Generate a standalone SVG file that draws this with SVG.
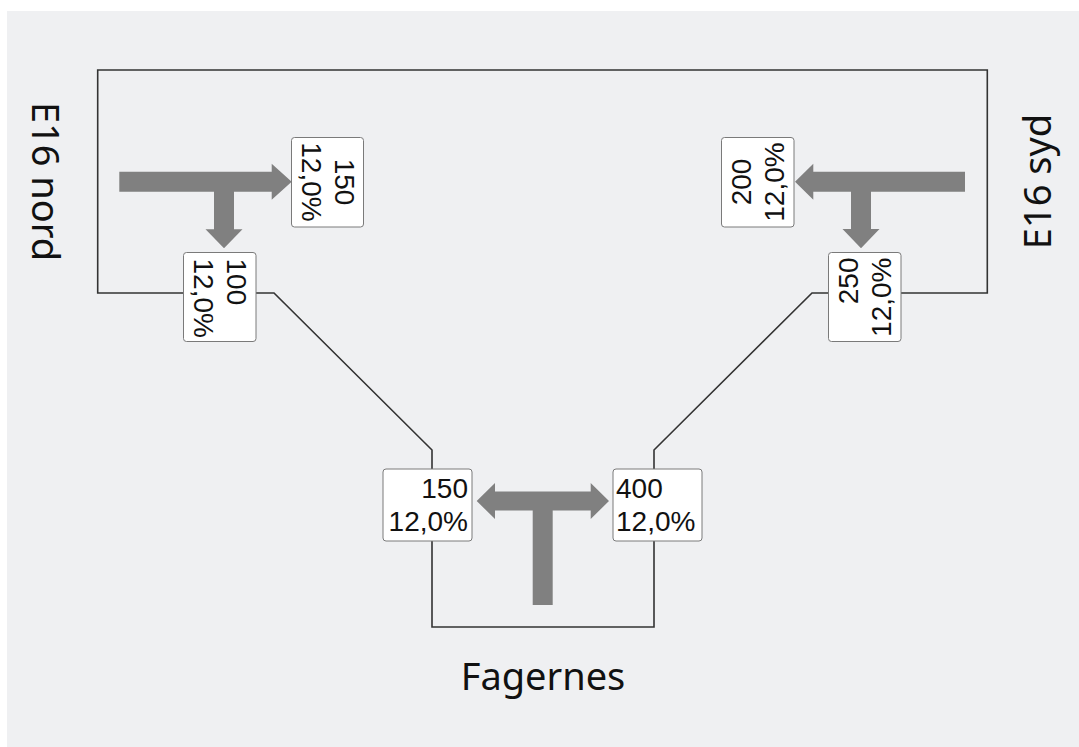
<svg xmlns="http://www.w3.org/2000/svg" width="1079" height="747" viewBox="0 0 1079 747">
<style>
.road{fill:none;stroke:#333;stroke-width:1.6}
.box{fill:#fff;stroke:#7a7a7a;stroke-width:1}
.num{font-family:"Liberation Sans",Arial,sans-serif;font-size:28px;fill:#111}
.lbl{font-family:"Noto Sans","Open Sans",sans-serif;font-size:38px;fill:#111}
.arr{fill:#808080}
</style>
<rect x="0" y="0" width="1079" height="747" fill="#ffffff"/>
<rect x="7" y="11" width="1072" height="736" fill="#eff0f2"/>
<g id="connectors">
<path class="road" d="M183 293 H97.7 V70 H987.3 V293 H901"/>
<path class="road" d="M256 293 H274 L432 450 V469"/>
<path class="road" d="M828 293 H812 L654 450 V469"/>
<path class="road" d="M432 541 V627 H654 V541"/>
</g>
<g id="arrows">
<polygon class="arr" points="119.3,171.7 271.7,171.7 271.7,163.7 291.7,181.7 271.7,199.7 271.7,191.7 234,191.7 234,229.3 242.5,229.3 224,248.3 205.5,229.3 214,229.3 214,191.7 119.3,191.7"/>
<polygon class="arr" points="965,171.7 813.3,171.7 813.3,163.7 795,181.7 813.3,199.7 813.3,191.7 871,191.7 871,229 879.5,229 861,248.3 842.5,229 851,229 851,191.7 965,191.7"/>
<polygon class="arr" points="476.7,501 495,483 495,491.5 590.7,491.5 590.7,483 609,501 590.7,519 590.7,510.5 552.7,510.5 552.7,605 532.7,605 532.7,510.5 495,510.5 495,519"/>
</g>
<g id="node-nord-150">
<rect class="box" x="291.5" y="137.5" width="72" height="89.5" rx="3"/>
<g transform="translate(327.5,182) rotate(90)"><text class="num" text-anchor="middle" x="0" y="-7">150</text><text class="num" text-anchor="middle" x="0" y="26">12,0%</text></g>
</g>
<g id="node-nord-100">
<rect class="box" x="183.5" y="252.5" width="72.5" height="89" rx="3"/>
<g transform="translate(219.5,252.5) rotate(90)"><text class="num" x="6" y="-7">100</text><text class="num" x="6" y="26">12,0%</text></g>
</g>
<g id="node-syd-200">
<rect class="box" x="721.5" y="137.5" width="72.5" height="89.5" rx="3"/>
<g transform="translate(757.5,182) rotate(-90)"><text class="num" text-anchor="middle" x="0" y="-7">200</text><text class="num" text-anchor="middle" x="0" y="26">12,0%</text></g>
</g>
<g id="node-syd-250">
<rect class="box" x="828.5" y="252.5" width="72.5" height="89" rx="3"/>
<g transform="translate(864.5,252.5) rotate(-90)"><text class="num" text-anchor="end" x="-5" y="-7">250</text><text class="num" text-anchor="end" x="-5" y="26">12,0%</text></g>
</g>
<g id="node-fag-150">
<rect class="box" x="383" y="469" width="89" height="72" rx="3"/>
<text class="num" text-anchor="end" x="468" y="497.5">150</text><text class="num" text-anchor="end" x="468" y="531">12,0%</text>
</g>
<g id="node-fag-400">
<rect class="box" x="613" y="469" width="89" height="72" rx="3"/>
<text class="num" x="616" y="497.5">400</text><text class="num" x="616" y="531">12,0%</text>
</g>
<g id="labels">
<text class="lbl" transform="translate(32,181.5) rotate(90)" text-anchor="middle">E16 nord</text>
<text class="lbl" transform="translate(1051,181.5) rotate(-90)" text-anchor="middle">E16 syd</text>
<text class="lbl" x="543" y="690" text-anchor="middle">Fagernes</text>
</g>
</svg>
